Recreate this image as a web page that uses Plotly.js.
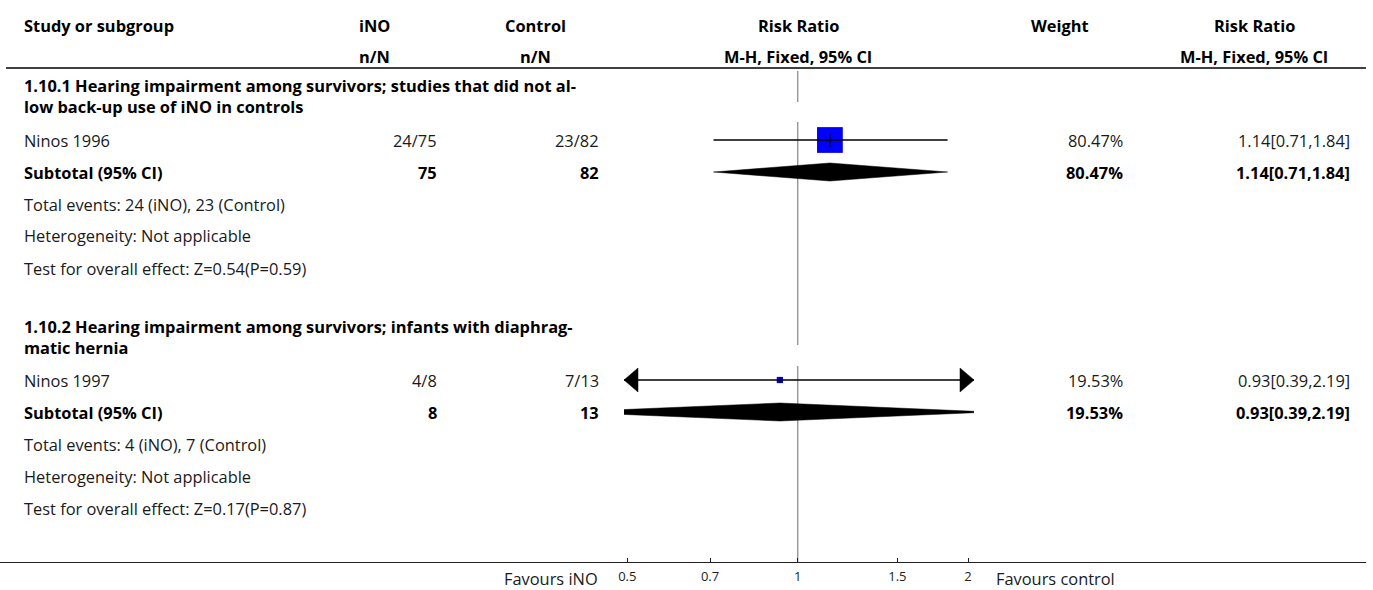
<!DOCTYPE html>
<html>
<head>
<meta charset="utf-8">
<script src="https://cdn.plot.ly/plotly-3.0.1.min.js"></script>
<style>html,body{margin:0;padding:0;background:#fff;}#chart{width:1373px;height:590px;}</style>
</head>
<body>
<div id="chart"></div>
<script>
// ---------------- data ----------------
const subgroupTitles = [
  ["1.10.1 Hearing impairment among survivors; studies that did not al-", "low back-up use of iNO in controls"],
  ["1.10.2 Hearing impairment among survivors; infants with diaphrag-", "matic hernia"]
];
const studies = ["Ninos 1996", "Ninos 1997"];
const inoEvents = [24, 4];
const inoTotal = [75, 8];
const ctlEvents = [23, 7];
const ctlTotal = [82, 13];
const riskRatio = [1.14, 0.93];
const ciLow = [0.71, 0.39];
const ciHigh = [1.84, 2.19];
const weights = [80.47, 19.53];
const zValues = ["0.54", "0.17"];
const pValues = ["0.59", "0.87"];
const tickVals = [0.5, 0.7, 1, 1.5, 2];
const tickText = ["0.5", "0.7", "1", "1.5", "2"];

// ---------------- layout helpers ----------------
const W = 1373, H = 590;
const FONT = "'Open Sans', 'Noto Sans', sans-serif";
const FS = 16.4;
const axisY = 563;                 // pixel row of the axis line
const pxPerDecade = 566;           // log scale density
const onePx = 797.7;               // pixel position of RR = 1
const domL = 624, domR = 974;      // clipping window of the forest area
const rangeLog = [(domL - onePx) / pxPerDecade, (domR - onePx) / pxPerDecade];
const rowStart = [140, 380];
const rowGap = 32;
const col = {left: 22, ino: 439, inoC: 374, ctl: 601, ctlC: 535, rrC: 798, wt: 1125, wtC: 1060, rr2: 1352, rr2C: 1254};
const P = px => px / W;
const PY = py => (axisY - py) / axisY;
const dx = (v, px) => Math.pow(10, Math.log10(v) + px / pxPerDecade); // shift value by px on the log axis

const annotations = [];
function ann(text, xpx, ypx, anchor, bold, size, color) {
  annotations.push({
    text: bold ? "<b>" + text + "</b>" : text,
    xref: "paper", yref: "paper", x: P(xpx), y: PY(ypx),
    xanchor: anchor, yanchor: "middle", showarrow: false,
    font: {family: FONT, size: size || FS, color: color || (bold ? "#000" : "#1a1a1a")}
  });
}

// header
ann("Study or subgroup", col.left, 25, "left", true);
ann("iNO", col.inoC, 25, "center", true);
ann("n/N", col.inoC, 56, "center", true);
ann("Control", col.ctlC, 25, "center", true);
ann("n/N", col.ctlC, 56, "center", true);
ann("Risk Ratio", col.rrC, 25, "center", true);
ann("M-H, Fixed, 95% CI", col.rrC, 56, "center", true);
ann("Weight", col.wtC, 25, "center", true);
ann("Risk Ratio", col.rr2C, 25, "center", true);
ann("M-H, Fixed, 95% CI", col.rr2C, 56, "center", true);

const traces = [];
const shapes = [];
const fmt = v => v.toFixed(2);

for (let g = 0; g < studies.length; g++) {
  const r0 = rowStart[g];
  const yStudy = r0, ySub = r0 + rowGap, yTE = r0 + 2 * rowGap, yHet = r0 + 3 * rowGap, yTest = r0 + 4 * rowGap;
  ann(subgroupTitles[g][0], col.left, r0 - 54, "left", true);
  ann(subgroupTitles[g][1], col.left, r0 - 33, "left", true);
  // study row
  ann(studies[g], col.left, yStudy, "left", false);
  ann(inoEvents[g] + "/" + inoTotal[g], col.ino, yStudy, "right", false);
  ann(ctlEvents[g] + "/" + ctlTotal[g], col.ctl, yStudy, "right", false);
  ann(weights[g].toFixed(2) + "%", col.wt, yStudy, "right", false);
  ann(fmt(riskRatio[g]) + "[" + fmt(ciLow[g]) + "," + fmt(ciHigh[g]) + "]", col.rr2, yStudy, "right", false);
  // subtotal row
  ann("Subtotal (95% CI)", col.left, ySub, "left", true);
  ann(String(inoTotal[g]), col.ino, ySub, "right", true);
  ann(String(ctlTotal[g]), col.ctl, ySub, "right", true);
  ann(weights[g].toFixed(2) + "%", col.wt, ySub, "right", true);
  ann(fmt(riskRatio[g]) + "[" + fmt(ciLow[g]) + "," + fmt(ciHigh[g]) + "]", col.rr2, ySub, "right", true);
  ann("Total events: " + inoEvents[g] + " (iNO), " + ctlEvents[g] + " (Control)", col.left, yTE, "left", false);
  ann("Heterogeneity: Not applicable", col.left, yHet, "left", false);
  ann("Test for overall effect: Z=" + zValues[g] + "(P=" + pValues[g] + ")", col.left, yTest, "left", false);

  // square (weighted)
  const size = weights[g] * 0.32;
  traces.push({x: [riskRatio[g]], y: [yStudy], type: "scatter", mode: "markers",
    marker: {symbol: "square", size: size, color: "#0000ff", line: {width: 0}}, hoverinfo: "skip"});
  // CI line (clipped by axis window)
  const cLo = Math.max(ciLow[g], Math.pow(10, rangeLog[0])), cHi = Math.min(ciHigh[g], Math.pow(10, rangeLog[1]));
  traces.push({x: [ciLow[g], ciHigh[g]], y: [yStudy, yStudy], type: "scatter", mode: "lines",
    line: {color: "#000", width: 1.4}, hoverinfo: "skip"});
  const tk = Math.min(7, size * 0.45);
  traces.push({x: [riskRatio[g], riskRatio[g]], y: [yStudy - tk, yStudy + tk], type: "scatter", mode: "lines",
    line: {color: "#000", width: 1.2}, hoverinfo: "skip"});
  // arrows for CI beyond the window
  if (ciLow[g] < cLo) {
    traces.push({x: [cLo, dx(cLo, 14), dx(cLo, 14), cLo], y: [yStudy, yStudy - 12, yStudy + 12, yStudy],
      type: "scatter", mode: "lines", fill: "toself", fillcolor: "#000", line: {color: "#000", width: 0.5}, hoverinfo: "skip"});
  }
  if (ciHigh[g] > cHi) {
    traces.push({x: [cHi, dx(cHi, -14), dx(cHi, -14), cHi], y: [yStudy, yStudy - 12, yStudy + 12, yStudy],
      type: "scatter", mode: "lines", fill: "toself", fillcolor: "#000", line: {color: "#000", width: 0.5}, hoverinfo: "skip"});
  }
  // subtotal diamond
  traces.push({x: [ciLow[g], riskRatio[g], ciHigh[g], riskRatio[g], ciLow[g]],
    y: [ySub, ySub - 9, ySub, ySub + 9, ySub], type: "scatter", mode: "lines", fill: "toself",
    fillcolor: "#000", line: {color: "#000", width: 0.5}, hoverinfo: "skip"});
}

// reference line at RR = 1 (with the gaps seen beside second title lines)
const refSegs = [[71, 102], [122, 345], [366, axisY]];
refSegs.forEach(s => shapes.push({type: "line", xref: "x", yref: "y", x0: 1, x1: 1, y0: s[0], y1: s[1],
  line: {color: "#9a9a9a", width: 1.5}, layer: "below"}));
// header rule and bottom axis rule
shapes.push({type: "line", xref: "paper", yref: "y", x0: P(6), x1: P(1366), y0: 68, y1: 68, line: {color: "#000", width: 1.5}});
shapes.push({type: "line", xref: "paper", yref: "y", x0: P(0), x1: P(1366), y0: axisY, y1: axisY, line: {color: "#222", width: 2}});

ann("Favours iNO", 600, 578, "right", false, FS);
ann("Favours control", 994, 578, "left", false, FS);

const layout = {
  width: W, height: H,
  margin: {l: 0, r: 0, t: 0, b: H - axisY, pad: 0},
  paper_bgcolor: "#fff", plot_bgcolor: "rgba(0,0,0,0)",
  showlegend: false,
  xaxis: {type: "log", range: rangeLog, domain: [P(domL), P(domR)], autorange: false,
    tickvals: tickVals, ticktext: tickText, ticks: "inside", ticklen: 5, tickwidth: 1, tickcolor: "#222",
    showgrid: false, zeroline: false, showline: false, fixedrange: true,
    tickfont: {family: FONT, size: 13, color: "#222"}, ticklabelstandoff: 4},
  yaxis: {range: [axisY, 0], autorange: false, visible: false, showgrid: false, zeroline: false, fixedrange: true},
  shapes: shapes,
  annotations: annotations
};
Plotly.newPlot("chart", traces, layout, {displayModeBar: false, staticPlot: true});
</script>
</body>
</html>
